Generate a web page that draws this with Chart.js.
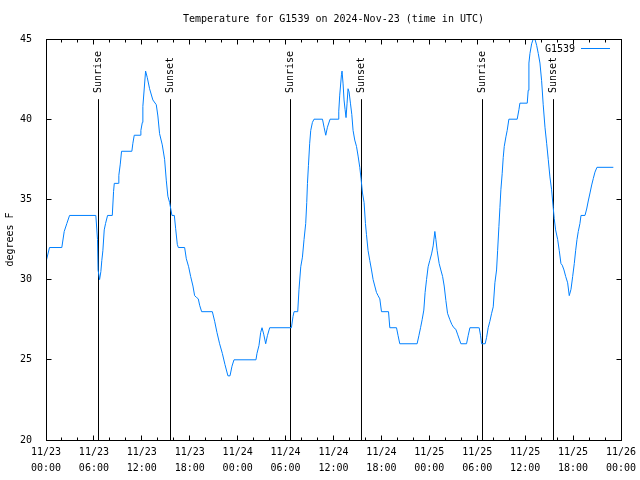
<!DOCTYPE html>
<html>
<head>
<meta charset="utf-8">
<script src="https://cdn.jsdelivr.net/npm/chart.js@4.4.1/dist/chart.umd.min.js"></script>
<style>
  body { margin: 0; background: #fff; }
</style>
</head>
<body>
<canvas id="tempChart" width="640" height="480"></canvas>
<script>
// hours since 11/23 00:00 UTC, and temperature in F
const hours = [
  0, 0.44, 1.98, 2.28, 2.61, 2.95, 6.24, 6.45, 6.52, 6.71, 6.87, 6.99, 7.12, 7.29, 7.46, 7.71,
  8.30, 8.46, 8.55, 9.05, 9.12, 9.30, 9.46, 10.75, 10.88, 11.05, 11.81, 11.88, 12.06, 12.13,
  12.47, 12.68, 12.97, 13.38, 13.81, 14.01, 14.22, 14.56, 14.85, 15.06, 15.26, 15.48, 15.77,
  16.07, 16.23, 16.44, 16.57, 17.36, 17.57, 17.86, 18.11, 18.40, 18.61, 18.82, 19.07, 19.24,
  19.49, 20.83, 21.12, 21.41, 21.74, 22.08, 22.41, 22.78, 23.04, 23.29, 23.54, 26.29, 26.42,
  26.67, 26.88, 27.05, 27.26, 27.51, 27.72, 28.01, 30.73, 30.93, 31.06, 31.52, 31.68, 31.90,
  32.11, 32.31, 32.52, 32.65, 32.74, 32.86, 33.02, 33.15, 33.36, 33.56, 34.62, 34.82, 35.03,
  35.24, 35.57, 36.57, 36.66, 36.78, 37.00, 37.07, 37.20, 37.32, 37.45, 37.57, 37.70, 37.82,
  37.95, 38.12, 38.29, 38.45, 38.66, 38.88, 39.08, 39.29, 39.45, 39.63, 39.83, 40.00, 40.13,
  40.33, 40.54, 40.76, 40.96, 41.17, 41.38, 41.58, 41.80, 42.01, 42.89, 43.05, 43.89, 44.09,
  44.30, 46.47, 46.69, 46.90, 47.10, 47.31, 47.47, 47.65, 47.85, 48.06, 48.28, 48.48, 48.69,
  48.82, 48.98, 49.23, 49.44, 49.66, 49.86, 50.07, 50.28, 50.57, 50.82, 51.07, 51.32, 51.53,
  51.74, 51.95, 52.66, 52.86, 53.08, 54.12, 54.24, 54.42, 54.54, 54.99, 55.17, 55.37, 55.58,
  55.80, 56.00, 56.21, 56.42, 56.55, 56.71, 56.84, 56.96, 57.12, 57.25, 57.38, 57.59, 57.75,
  57.96, 59.00, 59.22, 59.34, 60.26, 60.38, 60.47, 60.60, 60.81, 61.01, 61.22, 61.44, 61.64,
  61.85, 62.06, 62.26, 62.48, 62.69, 62.89, 63.10, 63.31, 63.51, 63.64, 63.81, 64.07, 64.27,
  64.48, 64.64, 64.86, 65.07, 65.32, 65.52, 65.74, 65.95, 66.15, 66.32, 66.49, 66.65, 66.86,
  66.99, 67.49, 67.70, 67.90, 68.12, 68.33, 68.53, 68.74, 68.99, 71.04
];
const tempF = [
  31.1, 32.0, 32.0, 33.0, 33.5, 34.0, 34.0, 32.5, 30.6, 30.0, 30.5, 31.2, 31.8, 33.1, 33.5, 34.0,
  34.0, 35.5, 36.0, 36.0, 36.5, 37.2, 38.0, 38.0, 38.5, 39.0, 39.0, 39.3, 39.8, 40.8,
  43.0, 42.6, 41.9, 41.2, 40.9, 40.2, 39.1, 38.4, 37.5, 36.2, 35.2, 34.8, 34.0,
  34.0, 33.2, 32.2, 32.0, 32.0, 31.3, 30.8, 30.2, 29.6, 29.0, 28.9, 28.8, 28.4,
  28.0, 28.0, 27.4, 26.7, 26.0, 25.4, 24.7, 24.0, 24.0, 24.6, 25.0, 25.0, 25.4,
  25.9, 26.7, 27.0, 26.6, 26.0, 26.5, 27.0, 27.0, 27.7, 28.0, 28.0, 29.4, 30.8,
  31.4, 32.5, 33.5, 34.8, 36.0, 37.1, 38.5, 39.3, 39.8, 40.0, 40.0, 39.5, 39.0,
  39.5, 40.0, 40.0, 40.5, 41.5, 42.8, 43.0, 42.2, 41.2, 40.6, 40.1, 41.0, 41.9,
  41.7, 41.0, 40.3, 39.3, 38.7, 38.3, 37.7, 37.0, 36.3, 35.4, 34.8, 33.5, 32.8,
  31.8, 31.2, 30.6, 30.0, 29.6, 29.2, 29.0, 28.8, 28.0, 28.0, 27.0, 27.0, 26.5,
  26.0, 26.0, 26.5, 27.0, 27.5, 28.1, 29.2, 30.0, 30.8, 31.2, 31.6, 32.1, 33.0,
  32.5, 31.8, 31.0, 30.6, 30.2, 29.6, 28.7, 27.9, 27.5, 27.2, 27.0, 26.9, 26.6,
  26.3, 26.0, 26.0, 26.5, 27.0, 27.0, 27.0, 26.5, 26.0, 26.0, 26.4, 27.0, 27.4,
  27.9, 28.3, 29.8, 30.6, 31.8, 33.3, 34.5, 35.6, 36.6, 37.6, 38.3, 38.9, 39.3,
  40.0, 40.0, 40.6, 41.0, 41.0, 41.8, 43.5, 44.1, 44.7, 45.0, 45.0, 44.6, 44.1,
  43.5, 42.4, 40.9, 39.5, 38.5, 37.5, 36.4, 35.6, 34.5, 33.8, 33.1, 32.5, 31.8,
  31.0, 30.9, 30.6, 30.2, 29.8, 29.0, 29.4, 30.2, 31.0, 31.8, 32.5, 33.0, 33.5,
  34.0, 34.0, 34.4, 34.9, 35.4, 35.9, 36.3, 36.7, 37.0, 37.0
];

const sunHours = [6.574, 15.59, 30.616, 39.506, 54.658, 63.548];
const sunLabels = ['Sunrise', 'Sunset', 'Sunrise', 'Sunset', 'Sunrise', 'Sunset'];
const sunLineTop = 41.25;

const xTickDates = ['11/23', '11/23', '11/23', '11/23', '11/24', '11/24', '11/24', '11/24',
  '11/25', '11/25', '11/25', '11/25', '11/26'];
const xTickTimes = ['00:00', '06:00', '12:00', '18:00', '00:00', '06:00', '12:00', '18:00',
  '00:00', '06:00', '12:00', '18:00', '00:00'];

const stationName = 'G1539';
const chartTitle = 'Temperature for G1539 on 2024-Nov-23 (time in UTC)';
const lineColor = 'rgb(0, 128, 255)';
const monoFont = '"DejaVu Sans Mono", "Liberation Mono", monospace';

const tempPoints = hours.map((h, i) => ({ x: h, y: tempF[i] }));
const sunDatasets = sunHours.map(h => ({
  data: [{ x: h, y: 20 }, { x: h, y: sunLineTop }],
  borderColor: '#000',
  borderWidth: 1,
  pointRadius: 0,
}));

// gnuplot style box, inward ticks, title, key and sun labels
const gnuplotFrame = {
  id: 'gnuplotFrame',
  afterDatasetsDraw(chart) {
    const { ctx, chartArea: a, scales: { x, y } } = chart;
    const L = Math.floor(a.left) + 0.5, R = Math.floor(a.right) + 0.5;
    const T = Math.floor(a.top) + 0.5, B = Math.floor(a.bottom) + 0.5;
    ctx.save();
    ctx.strokeStyle = '#000';
    ctx.lineWidth = 1;
    ctx.strokeRect(L, T, R - L, B - T);

    ctx.beginPath();
    for (let h = 0; h <= 72; h += 2) {
      const px = Math.floor(x.getPixelForValue(h)) + 0.5;
      const len = h % 6 === 0 ? 5 : 3;
      ctx.moveTo(px, B); ctx.lineTo(px, B - len);
      ctx.moveTo(px, T); ctx.lineTo(px, T + len);
    }
    for (let v = 20; v <= 45; v += 5) {
      const py = Math.floor(y.getPixelForValue(v)) + 0.5;
      ctx.moveTo(L, py); ctx.lineTo(L + 5, py);
      ctx.moveTo(R, py); ctx.lineTo(R - 5, py);
    }
    ctx.stroke();

    ctx.fillStyle = '#000';
    ctx.font = '10px ' + monoFont;
    ctx.textBaseline = 'middle';
    ctx.textAlign = 'center';
    ctx.fillText(chartTitle, (a.left + a.right) / 2, 19);

    // key
    ctx.textAlign = 'right';
    ctx.fillText(stationName, 575, 49);
    ctx.strokeStyle = lineColor;
    ctx.beginPath();
    ctx.moveTo(581, 48.5); ctx.lineTo(610, 48.5);
    ctx.stroke();

    // sunrise / sunset labels
    ctx.fillStyle = '#000';
    ctx.textAlign = 'left';
    sunHours.forEach((h, i) => {
      const px = x.getPixelForValue(h);
      ctx.save();
      ctx.translate(px, 93);
      ctx.rotate(-Math.PI / 2);
      ctx.fillText(sunLabels[i], 0, 0);
      ctx.restore();
    });
    ctx.restore();
  }
};

new Chart(document.getElementById('tempChart'), {
  type: 'line',
  data: {
    datasets: [
      {
        label: stationName,
        data: tempPoints,
        borderColor: lineColor,
        borderWidth: 1,
        pointRadius: 0,
        tension: 0,
      },
      ...sunDatasets,
    ],
  },
  options: {
    responsive: false,
    animation: false,
    devicePixelRatio: 1,
    layout: { padding: { left: 0, right: 19, top: 39, bottom: 0 } },
    plugins: {
      legend: { display: false },
      tooltip: { enabled: false },
      title: { display: false },
    },
    scales: {
      x: {
        type: 'linear',
        min: 0,
        max: 72,
        grid: { display: false },
        border: { display: false },
        afterFit: (s) => { s.height = 40; },
        ticks: {
          stepSize: 6,
          autoSkip: false,
          maxRotation: 0,
          padding: -4,
          color: '#000',
          font: { family: monoFont, size: 10, lineHeight: 1.6 },
          callback: (v, i) => [xTickDates[i], xTickTimes[i]],
        },
      },
      y: {
        min: 20,
        max: 45,
        grid: { display: false },
        border: { display: false },
        afterFit: (s) => { s.width = 46; },
        ticks: {
          stepSize: 5,
          padding: 6,
          color: '#000',
          font: { family: monoFont, size: 10 },
        },
        title: {
          display: true,
          text: 'degrees F',
          color: '#000',
          padding: { top: 4, bottom: 0 },
          font: { family: monoFont, size: 10 },
        },
      },
    },
  },
  plugins: [gnuplotFrame],
});
</script>
</body>
</html>
